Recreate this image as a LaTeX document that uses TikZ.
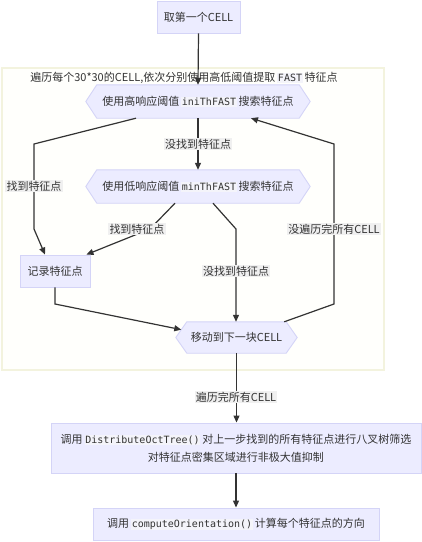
\documentclass[tikz,border=0pt]{standalone}
\usepackage{fontspec}
\setmainfont{Noto Sans CJK SC}
\setmonofont{DejaVu Sans Mono}
\usetikzlibrary{arrows.meta,calc}
\definecolor{nodefill}{HTML}{ECECFF}
\definecolor{nodedraw}{HTML}{D4D4F7}
\definecolor{edgecol}{HTML}{333333}
\definecolor{txtcol}{HTML}{333333}
\definecolor{lblbg}{HTML}{F0F0F0}
\definecolor{clfill}{HTML}{FFFFFC}
\definecolor{cldraw}{HTML}{F3F3DE}
\definecolor{codebg}{HTML}{F4F4FA}
\newcommand\mycode[1]{{\setlength\fboxsep{0.8pt}\colorbox{codebg}{\fontsize{10}{12}\selectfont\ttfamily #1}}}
\tikzset{
  x=1pt, y=-1pt,
  every node/.style={font=\fontsize{11}{18}\selectfont, text=txtcol},
  boxnode/.style={draw=nodedraw, fill=nodefill, line width=0.9pt, rectangle, inner sep=0pt, align=center},
  hexbase/.style={draw=none, rectangle, inner sep=0pt, minimum height=33pt, align=center},
  hexdraw/.style={draw=nodedraw, fill=nodefill, line width=0.9pt},
  edge/.style={draw=edgecol, line width=1.2pt, -{Triangle[length=7pt,width=6pt]}},
  plain/.style={draw=edgecol, line width=1.2pt},
  lbl/.style={fill=lblbg, inner sep=1.2pt},
}
\begin{document}
\begin{tikzpicture}
\useasboundingbox (0,0) rectangle (422,542);
% cluster
\draw[draw=cldraw, fill=clfill, line width=1.5pt] (2,68) rectangle (384,370);
\node (cltitle) at (184,78) {遍历每个30*30的CELL,依次分别使用高低阈值提取\,\mycode{FAST}\,特征点};

% nodes
\node[boxnode, minimum width=83pt, minimum height=32pt] (n0) at (198.5,17) {取第一个CELL};

\node[hexbase, minimum width=202pt] (h1) at (198,101.5) {};
\fill[hexdraw] (h1.north west) -- (h1.north east) -- ([xshift=11pt]h1.east) -- (h1.south east) -- (h1.south west) -- ([xshift=-11pt]h1.west) -- cycle;
\node at (h1.center) {使用高响应阈值\,\mycode{iniThFAST}\,搜索特征点};

\node[hexbase, minimum width=202pt] (h2) at (198,186.5) {};
\fill[hexdraw] (h2.north west) -- (h2.north east) -- ([xshift=11pt]h2.east) -- (h2.south east) -- (h2.south west) -- ([xshift=-11pt]h2.west) -- cycle;
\node at (h2.center) {使用低响应阈值\,\mycode{minThFAST}\,搜索特征点};

\node[boxnode, minimum width=70pt, minimum height=32pt] (rec) at (55,271) {记录特征点};

\node[hexbase, minimum width=99pt, minimum height=31pt] (h3) at (236.5,337.5) {};
\fill[hexdraw] (h3.north west) -- (h3.north east) -- ([xshift=11pt]h3.east) -- (h3.south east) -- (h3.south west) -- ([xshift=-11pt]h3.west) -- cycle;
\node at (h3.center) {移动到下一块CELL};

\node[boxnode, minimum width=370pt, minimum height=50pt] (d1) at (236,448) {调用\,\mycode{DistributeOctTree()}\,对上一步找到的所有特征点进行八叉树筛选\\对特征点密集区域进行非极大值抑制};

\node[boxnode, minimum width=286pt, minimum height=32pt] (d2) at (236,524) {调用\,\mycode{computeOrientation()}\,计算每个特征点的方向};

% edges
\draw[edge] (n0.south) -- (h1.north);

\coordinate (a1) at (34,144);
\coordinate (a2) at (34,229);
\draw[edge] ([xshift=-62pt]h1.south) -- (a1) -- (a2) -- ([xshift=-10pt]rec.north);
\node[lbl] at (34,186) {找到特征点};

\draw[edge] (h1.south) -- (h2.north);
\node[lbl] at (198,144) {没找到特征点};

\coordinate (b1) at (150,229);
\draw[edge] ([xshift=-23pt]h2.south) -- (b1) -- ([xshift=-4pt]rec.north east);
\node[lbl] at (137,229) {找到特征点};

\coordinate (c1) at (236,229);
\draw[edge] ([xshift=15pt]h2.south) -- (c1) -- (h3.north -| c1);
\node[lbl] at (236,271) {没找到特征点};

\coordinate (e1) at (55,304);
\draw[edge] (rec.south) -- (e1) -- ($(h3.north west)!0.5!([xshift=-11pt]h3.west)$);

\coordinate (f1) at (334,304);
\coordinate (f2) at (334,144);
\draw[edge] ([xshift=-2pt]h3.north east) -- (f1) -- (f2) -- ([xshift=53pt]h1.south);
\node[lbl] at (334,229) {没遍历完所有CELL};

\draw[edge] (h3.south) -- (d1.north -| h3.south);
\node[lbl] at (236,397) {遍历完所有CELL};

\draw[edge] (d1.south) -- (d2.north);
\end{tikzpicture}
\end{document}
